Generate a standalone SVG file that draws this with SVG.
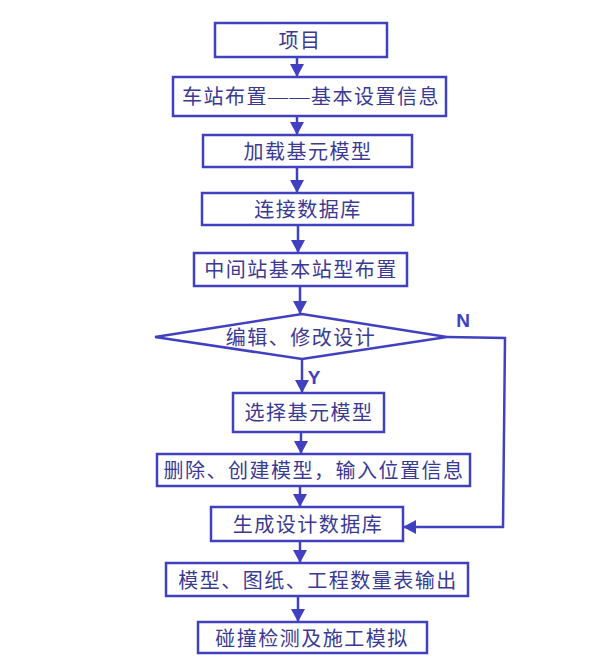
<svg xmlns="http://www.w3.org/2000/svg" width="596" height="672" viewBox="0 0 596 672">
<defs>
<marker id="ah" viewBox="0 0 13 14" refX="13" refY="7" markerWidth="13" markerHeight="14" markerUnits="userSpaceOnUse" orient="auto">
<path d="M0,0 L13,7 L0,14 Z" fill="#4040c0"/>
</marker>
<style>
.box{fill:#fff;stroke:#4040c0;stroke-width:2.5}
.t{font-family:"Liberation Serif","Noto Sans CJK SC",serif;font-size:20px;letter-spacing:1.5px;fill:#3a3a95;text-anchor:middle;dominant-baseline:central}
.lab{font-family:"Liberation Sans",Arial,sans-serif;font-size:19px;font-weight:bold;fill:#4040c0;text-anchor:middle;dominant-baseline:central}
.c{stroke:#4040c0;stroke-width:2.5;fill:none}
</style>
</defs>
<rect width="596" height="672" fill="#fff"/>
<g id="connectors">
<line class="c" x1="297" y1="57" x2="297" y2="77" marker-end="url(#ah)"/>
<line class="c" x1="297" y1="116" x2="297" y2="135" marker-end="url(#ah)"/>
<line class="c" x1="297" y1="167" x2="297" y2="193" marker-end="url(#ah)"/>
<line class="c" x1="298" y1="225" x2="298" y2="253" marker-end="url(#ah)"/>
<line class="c" x1="300" y1="286" x2="300" y2="314" marker-end="url(#ah)"/>
<line class="c" x1="302" y1="359" x2="302" y2="393" marker-end="url(#ah)"/>
<line class="c" x1="301" y1="432" x2="301" y2="454" marker-end="url(#ah)"/>
<line class="c" x1="300" y1="486" x2="300" y2="507" marker-end="url(#ah)"/>
<line class="c" x1="300" y1="541" x2="300" y2="563" marker-end="url(#ah)"/>
<line class="c" x1="298" y1="596" x2="298" y2="622" marker-end="url(#ah)"/>
<polyline class="c" points="447,337 505,338 503,527 403,527" marker-end="url(#ah)"/>
<text class="lab" x="463" y="320">N</text>
<text class="lab" x="314" y="377">Y</text>
</g>
<g id="n1"><rect class="box" x="215" y="23" width="172" height="34"/><text class="t" x="300" y="41">项目</text></g>
<g id="n2"><rect class="box" x="173" y="77" width="273" height="39"/><text class="t" x="311" y="97">车站布置——基本设置信息</text></g>
<g id="n3"><rect class="box" x="203" y="135" width="209" height="32"/><text class="t" x="308" y="152">加载基元模型</text></g>
<g id="n4"><rect class="box" x="202" y="193" width="211" height="32"/><text class="t" x="308" y="210">连接数据库</text></g>
<g id="n5"><rect class="box" x="194" y="253" width="213" height="33"/><text class="t" x="301" y="270">中间站基本站型布置</text></g>
<g id="n6"><polygon class="box" points="155,337 302,314 447,337 302,359"/><text class="t" x="301" y="338">编辑、修改设计</text></g>
<g id="n7"><rect class="box" x="233" y="393" width="151" height="39"/><text class="t" x="309" y="413">选择基元模型</text></g>
<g id="n8"><rect class="box" x="157" y="454" width="313" height="32"/><text class="t" x="314" y="471">删除、创建模型，输入位置信息</text></g>
<g id="n9"><rect class="box" x="211" y="507" width="192" height="34"/><text class="t" x="308" y="525">生成设计数据库</text></g>
<g id="n10"><rect class="box" x="166" y="563" width="302" height="33"/><text class="t" x="318" y="581">模型、图纸、工程数量表输出</text></g>
<g id="n11"><rect class="box" x="198" y="622" width="229" height="31"/><text class="t" x="312" y="639">碰撞检测及施工模拟</text></g>
</svg>
